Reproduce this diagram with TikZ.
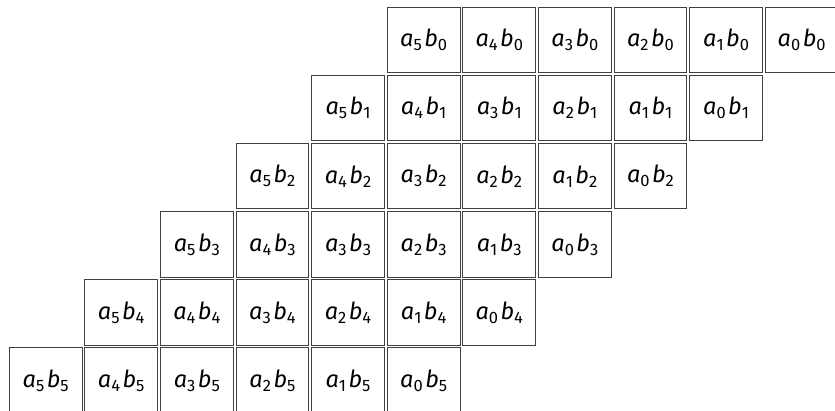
\documentclass[tikz,border=0pt]{standalone}
\usepackage{fontspec}
\setmainfont{Fira Sans}
\newcommand\subd[1]{\raisebox{-4pt}{\fontsize{16.5}{16.5}\selectfont #1}}
\newcommand\prodab[2]{{\itshape a}\subd{#1}\hspace{2.5pt}{\itshape b}\subd{#2}}
\begin{document}
\begin{tikzpicture}[x=1pt,y=1pt,
  cell/.style={draw=black!75, line width=0.9pt, minimum width=72.7pt, minimum height=65.4pt,
    inner sep=0pt, font=\fontsize{23.5}{23.5}\selectfont, text=black}]
\useasboundingbox (0,0) rectangle (835,-411);
\clip (0,0) rectangle (835,-411);
\foreach \r in {0,...,5}{
  \foreach \c in {0,...,5}{
    \pgfmathtruncatemacro\ai{5-\c}
    \node[cell] (n\r\c) at ({423.65+75.6*(\c-\r)}, {-40-68.1*\r}) {\prodab{\ai}{\r}};
  }
}
\end{tikzpicture}
\end{document}
